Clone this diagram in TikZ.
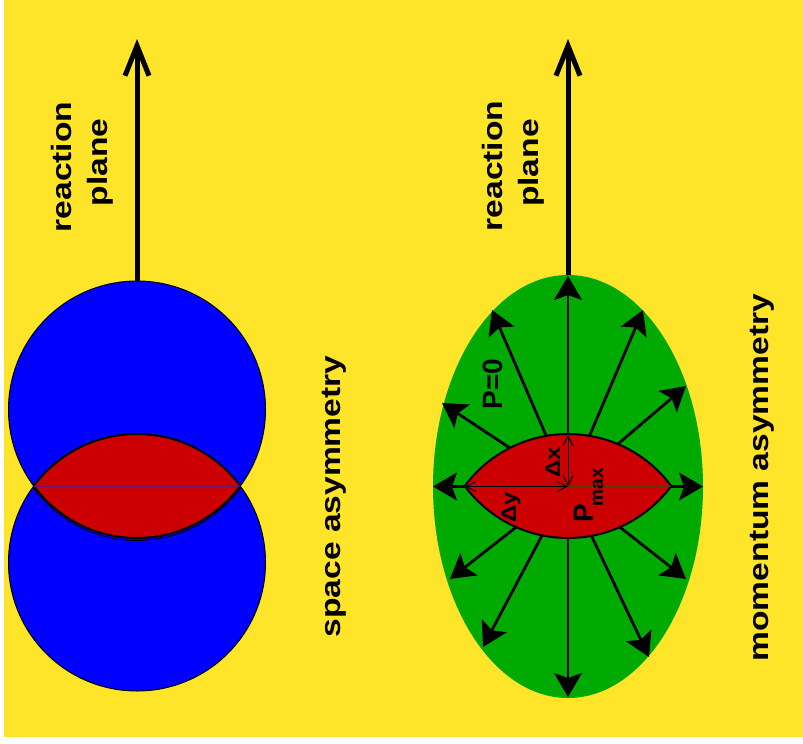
\documentclass[tikz,border=0pt]{standalone}
\usepackage{fontspec}
\setmainfont{Liberation Sans}
\usetikzlibrary{arrows.meta,shapes.geometric}
\definecolor{bgyellow}{RGB}{255,229,41}
\definecolor{ballblue}{RGB}{0,0,255}
\definecolor{lensred}{RGB}{204,0,0}
\definecolor{firegreen}{RGB}{0,170,0}
\definecolor{midline}{RGB}{110,20,120}
\definecolor{oliveline}{RGB}{90,60,0}
\newcommand\lensat[1]{%
  \begin{scope}
    \clip (#1,409.5) circle[radius=128.5];
    \fill[lensred] (#1,562.5) circle[radius=128.5];
    \draw[line width=2pt] (#1,562.5) circle[radius=128.5];
  \end{scope}
  \begin{scope}
    \clip (#1,562.5) circle[radius=128.5];
    \draw[line width=2pt] (#1,409.5) circle[radius=128.5];
  \end{scope}}
\begin{document}
\begin{tikzpicture}[x=1pt,y=-1pt,
  bigarrow/.style={line width=5pt,-{Straight Barb[length=30pt,width=24pt]}},
  flowarrow/.style={line width=2.8pt,-{Stealth[length=24pt,width=28pt,inset=5pt]}},
  dimarrow/.style={line width=0.9pt,{Straight Barb[length=10pt,width=10pt]}-{Straight Barb[length=10pt,width=10pt]}},
  ball/.style={circle,draw=black,line width=1pt,fill=ballblue,inner sep=0pt,minimum size=257pt},
  bigtext/.style={inner sep=0pt,anchor=base,rotate=90,font=\fontsize{28}{28}\selectfont\bfseries},
  midtext/.style={inner sep=0pt,anchor=base,rotate=90,font=\fontsize{28}{28}\selectfont\bfseries},
  smalltext/.style={inner sep=0pt,anchor=base,rotate=90,font=\fontsize{21}{21}\selectfont\bfseries}]
\useasboundingbox (0,0) rectangle (803,744);
\fill[white] (0,0) rectangle (803,744);
\fill[bgyellow] (4,0) rectangle (803,737);

% ---- left: space asymmetry
\node[ball] (up) at (137,409.5) {};
\node[ball] (low) at (137,562.5) {};
\lensat{137}
\begin{scope}
  \clip (137,562.5) circle[radius=128.5];
  \draw[line width=0.8pt] (137,412) circle[radius=128.5];
\end{scope}
\coordinate (ltipL) at (34,486.5);
\coordinate (ltipR) at (240,486.5);
\draw[midline,line width=0.8pt] (ltipL) -- (ltipR);
\coordinate (topL) at (137,39);
\draw[bigarrow] (up.north) -- (topL);
\node[bigtext] (reacL) at (71,167) {\scalebox{1.2}[1]{reaction}};
\node[bigtext] (planeL) at (107,162.5) {\scalebox{1.2}[1]{plane}};
\node[bigtext] (space) at (340,496.5) {\scalebox{1.2}[1]{space asymmetry}};

% ---- right: momentum asymmetry
\node[ellipse,fill=firegreen,inner sep=0pt,minimum width=270pt,minimum height=423pt] (fire) at (568,486.5) {};
\coordinate (c) at (568,486.5);
\coordinate (t1) at (568,276);
\coordinate (t2) at (568,697);
\coordinate (t3) at (433,486.5);
\coordinate (t4) at (703,486.5);
\coordinate (t5) at (492,310);
\coordinate (t6) at (643,310);
\coordinate (t7) at (442,403);
\coordinate (t8) at (686,386);
\coordinate (t9) at (450,579);
\coordinate (t10) at (483,647);
\coordinate (t11) at (649,657);
\coordinate (t12) at (686,579);
\foreach \t in {t1,t2,t3,t4,t5,t6,t7,t8,t9,t10,t11,t12}
  \draw[flowarrow] (c) -- (\t);
\lensat{568}
\coordinate (rtipL) at (465,486.5);
\coordinate (rtipR) at (671,486.5);
\coordinate (rtop) at (568,435);
\draw[oliveline,line width=0.8pt] (c) -- (rtipR);
\draw[dimarrow] (c) -- (rtipL);
\draw[dimarrow] (c) -- (rtop);
\node[smalltext] (dx) at (560,462.5) {\scalebox{1.15}[1]{Δx}};
\node[smalltext] (dy) at (516,507.5) {\scalebox{1.15}[1]{Δy}};
\node[midtext] (pmax) at (593,495.5) {P\kern-2pt\raisebox{-10pt}{\fontsize{19}{19}\selectfont max}};
\node[midtext] (pzero) at (502,384) {P=0};
\coordinate (topR) at (568,39);
\draw[bigarrow] (fire.north) -- (topR);
\node[bigtext] (reacR) at (502,166) {\scalebox{1.2}[1]{reaction}};
\node[bigtext] (planeR) at (538,163) {\scalebox{1.2}[1]{plane}};
\node[bigtext] (mom) at (768,477.5) {\scalebox{1.2}[1]{momentum asymmetry}};
\end{tikzpicture}
\end{document}
